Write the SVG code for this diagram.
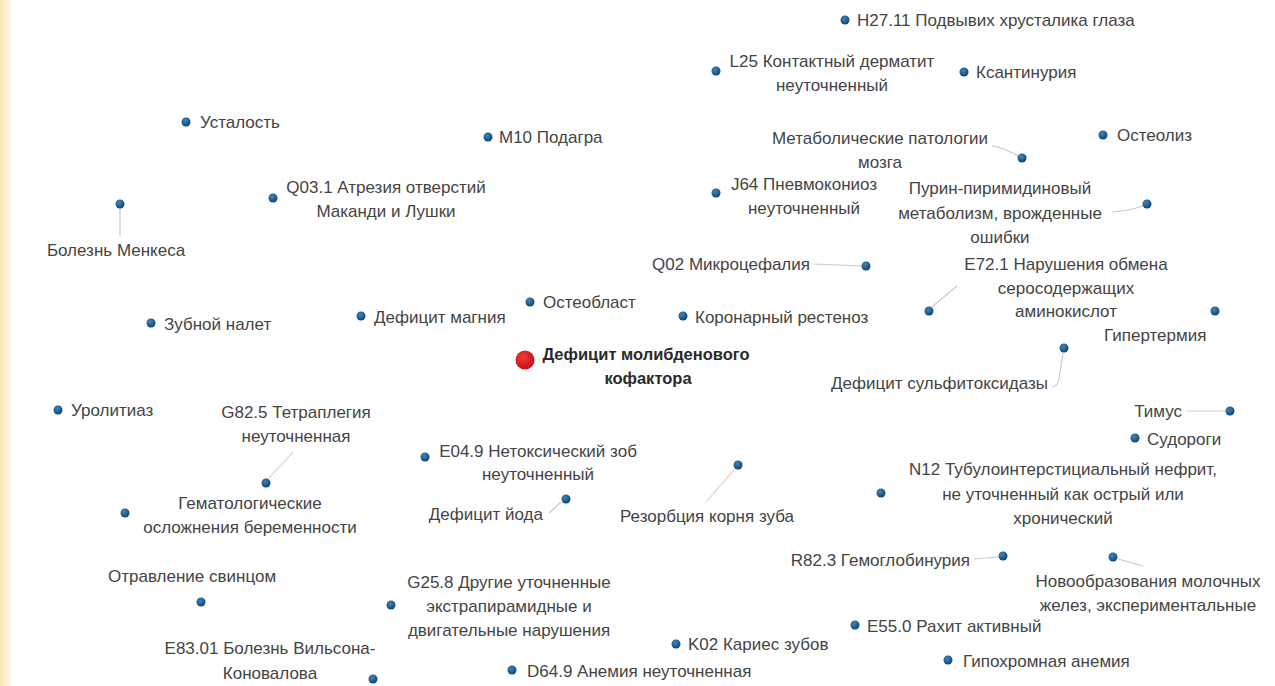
<svg xmlns="http://www.w3.org/2000/svg" width="1275" height="686" viewBox="0 0 1275 686">
<defs>
<linearGradient id="edge" x1="0" y1="0" x2="1" y2="0">
<stop offset="0" stop-color="#fce3b5"/>
<stop offset="0.6" stop-color="#fdefd6"/>
<stop offset="1" stop-color="#ffffff"/>
</linearGradient>
<radialGradient id="dot" cx="0.4" cy="0.35" r="0.7">
<stop offset="0" stop-color="#3f86bd"/>
<stop offset="1" stop-color="#0f3f66"/>
</radialGradient>
<radialGradient id="red" cx="0.4" cy="0.35" r="0.7">
<stop offset="0" stop-color="#f03a3a"/>
<stop offset="1" stop-color="#c40d12"/>
</radialGradient>
<style>
.l{font-family:"Liberation Sans",Arial,sans-serif;font-size:17px;fill:#444444}
.m{text-anchor:middle}
.e{text-anchor:end}
.b{font-weight:bold;fill:#2a2a2a;font-size:16.5px}
.d{fill:url(#dot)}
.c{fill:none;stroke:#c9c9c9;stroke-width:1.2}
.p{fill:none;stroke:#efd2cc;stroke-width:1.2}
</style>
</defs>
<rect width="1275" height="686" fill="#ffffff"/>
<rect x="0" y="0" width="12" height="686" fill="url(#edge)"/>
<g id="connectors">
<path class="c" d="M120,208 L120,236"/>
<path class="c" d="M1018,156 Q1005,148 992,146"/>
<path class="c" d="M1143,206 Q1128,211 1112,212"/>
<path class="c" d="M814,264 L862,266"/>
<path class="c" d="M932,307 L957,286"/>
<path class="c" d="M1063,353 L1059,379 Q1058,386 1052,387"/>
<path class="p" d="M268,479 L293,452"/>
<path class="c" d="M1187,411 L1225,411"/>
<path class="p" d="M734,470 L706,502"/>
<path class="c" d="M549,513 L561,502"/>
<path class="c" d="M974,559 L998,557"/>
<path class="c" d="M1118,559 L1143,566"/>
</g>
<g id="n-h27"><circle class="d" cx="845" cy="20" r="4.5"/><text class="l" x="857" y="26">H27.11 Подвывих хрусталика глаза</text></g>
<g id="n-l25"><circle class="d" cx="716" cy="71" r="4.5"/><text class="l m" x="832" y="67">L25 Контактный дерматит</text><text class="l m" x="832" y="91">неуточненный</text></g>
<g id="n-xanth"><circle class="d" cx="964" cy="72" r="4.5"/><text class="l" x="976" y="78">Ксантинурия</text></g>
<g id="n-fatigue"><circle class="d" cx="186" cy="122" r="4.5"/><text class="l" x="200" y="128">Усталость</text></g>
<g id="n-m10"><circle class="d" cx="488" cy="137" r="4.5"/><text class="l" x="499" y="143">M10 Подагра</text></g>
<g id="n-metab"><circle class="d" cx="1022" cy="158" r="4.5"/><text class="l m" x="880" y="144">Метаболические патологии</text><text class="l m" x="880" y="168">мозга</text></g>
<g id="n-osteolysis"><circle class="d" cx="1103" cy="135" r="4.5"/><text class="l" x="1117" y="141">Остеолиз</text></g>
<g id="n-q03"><circle class="d" cx="273" cy="198" r="4.5"/><text class="l m" x="386" y="193">Q03.1 Атрезия отверстий</text><text class="l m" x="386" y="217">Маканди и Лушки</text></g>
<g id="n-menkes"><circle class="d" cx="120" cy="204" r="4.5"/><text class="l m" x="116" y="256">Болезнь Менкеса</text></g>
<g id="n-j64"><circle class="d" cx="716" cy="193" r="4.5"/><text class="l m" x="804" y="190">J64 Пневмокониоз</text><text class="l m" x="804" y="214">неуточненный</text></g>
<g id="n-purine"><circle class="d" cx="1147" cy="204" r="4.5"/><text class="l m" x="1000" y="194">Пурин-пиримидиновый</text><text class="l m" x="1000" y="219">метаболизм, врожденные</text><text class="l m" x="1000" y="243">ошибки</text></g>
<g id="n-q02"><circle class="d" cx="866" cy="266" r="4.5"/><text class="l e" x="810" y="270">Q02 Микроцефалия</text></g>
<g id="n-e72"><circle class="d" cx="929" cy="311" r="4.5"/><text class="l m" x="1066" y="270">E72.1 Нарушения обмена</text><text class="l m" x="1066" y="294">серосодержащих</text><text class="l m" x="1066" y="317">аминокислот</text></g>
<g id="n-hyperth"><circle class="d" cx="1215" cy="311" r="4.5"/><text class="l" x="1104" y="341">Гипертермия</text></g>
<g id="n-mg"><circle class="d" cx="361" cy="316" r="4.5"/><text class="l" x="374" y="323">Дефицит магния</text></g>
<g id="n-osteoblast"><circle class="d" cx="530" cy="302" r="4.5"/><text class="l" x="543" y="308">Остеобласт</text></g>
<g id="n-coronary"><circle class="d" cx="683" cy="316" r="4.5"/><text class="l" x="695" y="323">Коронарный рестеноз</text></g>
<g id="n-plaque"><circle class="d" cx="151" cy="323" r="4.5"/><text class="l" x="164" y="330">Зубной налет</text></g>
<g id="n-center"><circle cx="525" cy="360" r="9.5" fill="url(#red)"/><text class="l b m" x="646" y="360">Дефицит молибденового</text><text class="l b m" x="648" y="384">кофактора</text></g>
<g id="n-sulfite"><circle class="d" cx="1064" cy="348" r="4.5"/><text class="l" x="831" y="389">Дефицит сульфитоксидазы</text></g>
<g id="n-urolith"><circle class="d" cx="58" cy="410" r="4.5"/><text class="l" x="71" y="416">Уролитиаз</text></g>
<g id="n-g82"><circle class="d" cx="266" cy="483" r="4.5"/><text class="l m" x="296" y="418">G82.5 Тетраплегия</text><text class="l m" x="296" y="442">неуточненная</text></g>
<g id="n-thymus"><circle class="d" cx="1230" cy="411" r="4.5"/><text class="l e" x="1182" y="417">Тимус</text></g>
<g id="n-seizures"><circle class="d" cx="1135" cy="438" r="4.5"/><text class="l" x="1147" y="445">Судороги</text></g>
<g id="n-e04"><circle class="d" cx="425" cy="457" r="4.5"/><text class="l m" x="538" y="457">E04.9 Нетоксический зоб</text><text class="l m" x="538" y="480">неуточненный</text></g>
<g id="n-resorption"><circle class="d" cx="738" cy="465" r="4.5"/><text class="l e" x="794" y="522">Резорбция корня зуба</text></g>
<g id="n-n12"><circle class="d" cx="881" cy="493" r="4.5"/><text class="l m" x="1063" y="475">N12 Тубулоинтерстициальный нефрит,</text><text class="l m" x="1063" y="500">не уточненный как острый или</text><text class="l m" x="1063" y="524">хронический</text></g>
<g id="n-hemat"><circle class="d" cx="125" cy="513" r="4.5"/><text class="l m" x="250" y="509">Гематологические</text><text class="l m" x="250" y="533">осложнения беременности</text></g>
<g id="n-iodine"><circle class="d" cx="566" cy="499" r="4.5"/><text class="l e" x="543" y="520">Дефицит йода</text></g>
<g id="n-r82"><circle class="d" cx="1003" cy="556" r="4.5"/><text class="l e" x="970" y="566">R82.3 Гемоглобинурия</text></g>
<g id="n-neoplasm"><circle class="d" cx="1113" cy="557" r="4.5"/><text class="l m" x="1148" y="587">Новообразования молочных</text><text class="l m" x="1148" y="611">желез, экспериментальные</text></g>
<g id="n-lead"><circle class="d" cx="201" cy="602" r="4.5"/><text class="l" x="108" y="582">Отравление свинцом</text></g>
<g id="n-g25"><circle class="d" cx="391" cy="605" r="4.5"/><text class="l m" x="509" y="588">G25.8 Другие уточненные</text><text class="l m" x="509" y="612">экстрапирамидные и</text><text class="l m" x="509" y="636">двигательные нарушения</text></g>
<g id="n-e55"><circle class="d" cx="855" cy="625" r="4.5"/><text class="l" x="867" y="632">E55.0 Рахит активный</text></g>
<g id="n-k02"><circle class="d" cx="676" cy="644" r="4.5"/><text class="l" x="688" y="650">K02 Кариес зубов</text></g>
<g id="n-e83"><circle class="d" cx="373" cy="679" r="4.5"/><text class="l m" x="270" y="654">E83.01 Болезнь Вильсона-</text><text class="l m" x="270" y="679">Коновалова</text></g>
<g id="n-hypochrom"><circle class="d" cx="948" cy="660" r="4.5"/><text class="l" x="963" y="667">Гипохромная анемия</text></g>
<g id="n-d64"><circle class="d" cx="512" cy="670" r="4.5"/><text class="l" x="527" y="677">D64.9 Анемия неуточненная</text></g>
</svg>
